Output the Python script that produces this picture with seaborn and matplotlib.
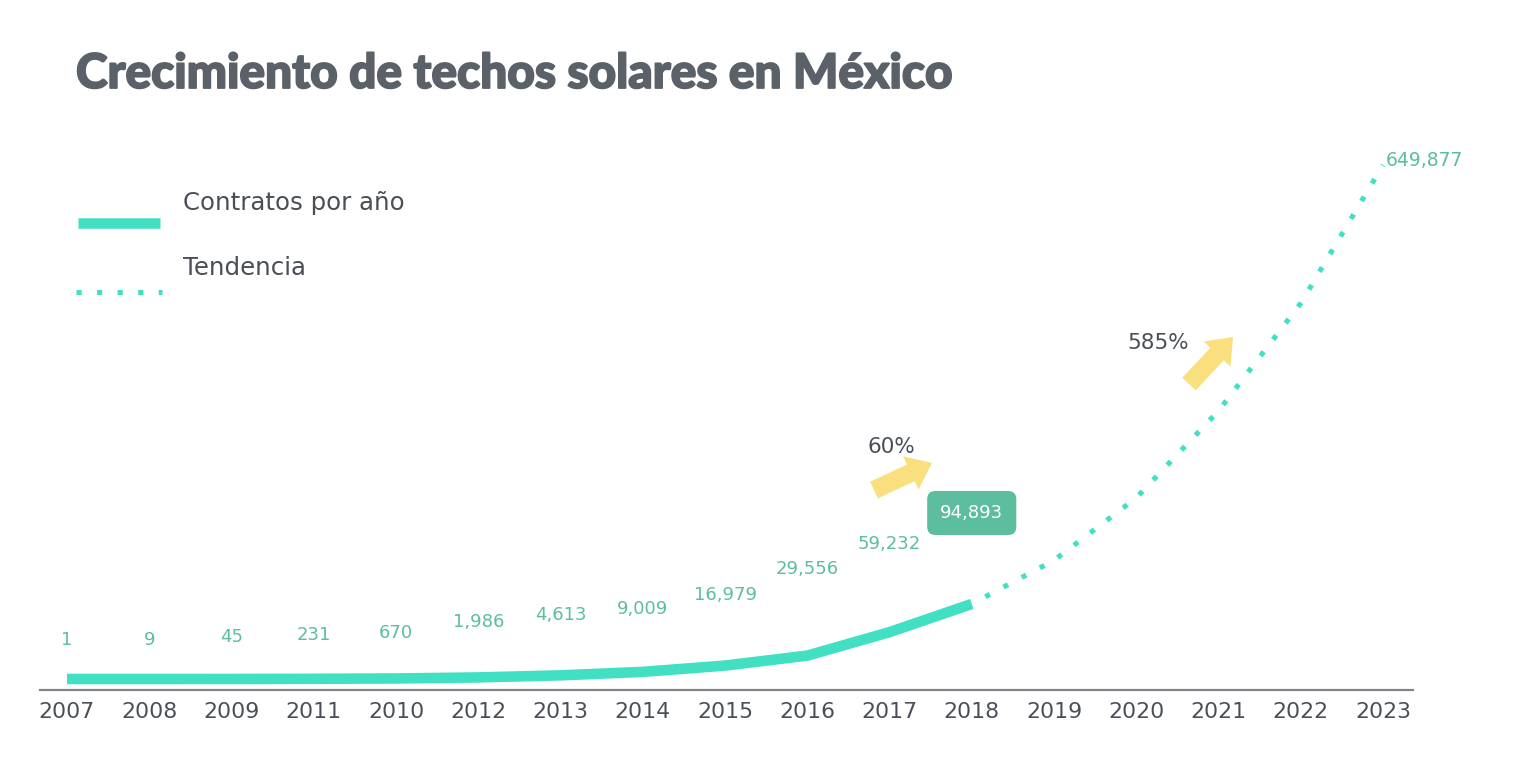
import matplotlib
matplotlib.use("Agg")
import matplotlib.pyplot as plt
import matplotlib.transforms as mtransforms
import matplotlib.patheffects as pe
from matplotlib import font_manager as fm
from matplotlib.lines import Line2D
import seaborn as sns
import pandas as pd

# ---------------- data ----------------
years = ["2007", "2008", "2009", "2011", "2010", "2012", "2013", "2014", "2015",
         "2016", "2017", "2018", "2019", "2020", "2021", "2022", "2023"]
contracts = [1, 9, 45, 231, 670, 1986, 4613, 9009, 16979, 29556, 59232, 94893]
trend = [94893, 150000, 229000, 339000, 475000, 649877]
growth_labels = ["60%", "585%"]
title = "Crecimiento de techos solares en México"
legend_labels = ["Contratos por año", "Tendencia"]

# ---------------- style ----------------
TURQ = "#42E0C3"
GREEN = "#5CBE9E"
DARK = "#4A4F57"
TITLE_C = "#5B6168"
YEL = "#FADF7E"
AXIS_C = "#80858B"

sns.set_theme(style="white")
plt.rcParams["font.family"] = ["DejaVu Sans"]


def heaviest_font(prefs):
    best = None
    for f in fm.fontManager.ttflist:
        if f.name not in prefs:
            continue
        w = f.weight
        if isinstance(w, str):
            w = fm.weight_dict.get(w, 400)
        key = (w, -prefs.index(f.name))
        if best is None or key > best[0]:
            best = (key, f.name, w)
    if best is None:
        return "DejaVu Sans", "bold"
    return best[1], best[2]


title_family, title_weight = heaviest_font(["Lato", "Inter", "Roboto", "Open Sans",
                                            "Noto Sans"])

W, H = 1514, 769
fig = plt.figure(figsize=(W / 100, H / 100), dpi=100)
fig.patch.set_facecolor("white")


def fx(x):
    return x / W


def fy(y):
    return 1 - y / H


ax_top, ax_bot = 140, 690
ax = fig.add_axes([fx(40), fy(ax_bot), (1413 - 40) / W, (ax_bot - ax_top) / H])
ax.set_facecolor("white")

pos = list(range(len(years)))
n_act = len(contracts)
df_act = pd.DataFrame({"x": pos[:n_act], "y": contracts})
df_tr = pd.DataFrame({"x": pos[n_act - 1:], "y": trend})

sns.lineplot(data=df_act, x="x", y="y", ax=ax, color=TURQ, lw=7.6,
             solid_capstyle="butt", solid_joinstyle="round")
sns.lineplot(data=df_tr, x="x", y="y", ax=ax, color=TURQ, lw=3.7,
             linestyle=(1, (1, 3)), dash_capstyle="butt")

# scale: value 0 sits 11 px above the axis line
zero_px = 679
top_px = 165
k = max(trend) / (zero_px - top_px)
ax.set_ylim(-(ax_bot - zero_px) * k, (zero_px - ax_top) * k)
step = (1383 - 67) / (len(years) - 1)
ax.set_xlim((40 - 67) / step, (1413 - 67) / step)

ax.set_xticks(pos)
ax.set_xticklabels(years, fontsize=15.8, color=DARK)
ax.tick_params(axis="x", length=0, pad=9)
ax.set_yticks([])
ax.set_xlabel("")
ax.set_ylabel("")
for s in ["top", "right", "left"]:
    ax.spines[s].set_visible(False)
ax.spines["bottom"].set_color(AXIS_C)
ax.spines["bottom"].set_linewidth(1.6)

# value labels (stair-stepped above the curve)
label_y_px = [640, 640, 637, 635, 633, 622, 615, 609, 595, 569, 544]
blend = mtransforms.blended_transform_factory(ax.transData, ax.transAxes)
for i, v in enumerate(contracts[:-1]):
    ax.text(pos[i], (ax_bot - label_y_px[i]) / (ax_bot - ax_top), f"{v:,}",
            transform=blend, ha="center", va="center", fontsize=13, color=GREEN)

# highlighted last actual value
ax.text(pos[n_act - 1], (ax_bot - 513) / (ax_bot - ax_top), f"{contracts[-1]:,}",
        transform=blend, ha="center", va="center", fontsize=13, color="white",
        bbox=dict(boxstyle="round,pad=0.72,rounding_size=0.45", fc=GREEN, ec="none"))

# final trend value
ax.text(pos[-1] + 0.5, (ax_bot - 160) / (ax_bot - ax_top), f"{trend[-1]:,}",
        transform=blend, ha="center", va="center", fontsize=13.5, color=GREEN,
        clip_on=False)

# growth arrows
arrow_props = dict(arrowstyle="simple,head_length=1.4,head_width=2.2,tail_width=1.1",
                   mutation_scale=12, fc=YEL, ec="none", shrinkA=0, shrinkB=0)
ax.annotate("", xy=(932, H - 463), xytext=(874, H - 490),
            xycoords="figure pixels", textcoords="figure pixels", arrowprops=arrow_props)
ax.annotate("", xy=(1233, H - 337), xytext=(1189, H - 384),
            xycoords="figure pixels", textcoords="figure pixels", arrowprops=arrow_props)
fig.text(fx(891), fy(447), growth_labels[0], ha="center", va="center",
         fontsize=15.5, color=DARK)
fig.text(fx(1158), fy(343), growth_labels[1], ha="center", va="center",
         fontsize=15.5, color=DARK)

# legend (drawn manually)
fig.add_artist(Line2D([fx(78), fx(160)], [fy(223), fy(223)], color=TURQ, lw=7.6,
                      solid_capstyle="butt", transform=fig.transFigure))
fig.add_artist(Line2D([fx(76), fx(162)], [fy(292), fy(292)], color=TURQ, lw=3.7,
                      linestyle=(0, (1, 3)), dash_capstyle="butt",
                      transform=fig.transFigure))
fig.text(fx(183), fy(203), legend_labels[0], ha="left", va="center",
         fontsize=17.6, color=DARK)
fig.text(fx(183), fy(268), legend_labels[1], ha="left", va="center",
         fontsize=17.6, color=DARK)

# title, heavy weight, fitted to its width in the reference
t = fig.text(fx(76), fy(74), title, ha="left", va="center", fontsize=32,
             fontweight=title_weight, family=[title_family, "DejaVu Sans"],
             color=TITLE_C,
             path_effects=[pe.withStroke(linewidth=1.3, foreground=TITLE_C)])
fig.canvas.draw()
wpx = t.get_window_extent().width
t.set_fontsize(32 * (878 / wpx))

fig.savefig("out.png", dpi=100, facecolor="white")
